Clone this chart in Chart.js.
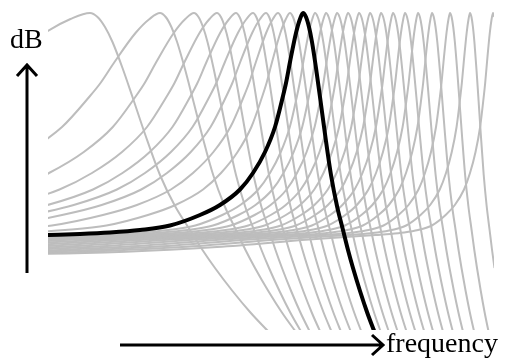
<!DOCTYPE html>
<html>
<head>
<meta charset="utf-8">
<script src="https://cdn.jsdelivr.net/npm/chart.js@4"></script>
<style>
  html, body { margin: 0; padding: 0; background: #fff; }
  canvas { display: block; }
</style>
</head>
<body>
<canvas id="filtri" width="506" height="361"></canvas>
<script>
// shape of one response: distance from the peak, level in dB
const tplOffset = [-2000, -1000, -600, -400, -255, -223, -193, -163, -133, -103, -83, -63, -50, -38, -28, -20, -17, -13, -7, -3, 0,
                   3, 6, 9, 13, 17, 22, 28, 34, 40, 45, 50, 57, 64, 70, 87];
const tplDb     = [-0.1, 0.0, 0.7, 1.45, 1.9, 2.0, 2.15, 2.4, 2.85, 3.9, 4.9, 6.45, 8.1, 10.2, 12.7, 15.8, 17.1, 19.2, 22.1, 23.5, 24.1,
                   23.7, 22.7, 21.2, 18.6, 15.7, 12.0, 7.9, 4.8, 2.4, 0.4, -1.4, -3.7, -5.8, -7.4, -11.6];

// highlighted curve
const blackPeak = 255;

// gray curves: peak frequency, width of the rising side, width of the falling side
const grayPeak  = [42, 112, 146, 169, 188, 205, 218, 230, 242,
                   267, 278, 289, 300, 311, 322, 333, 345, 357, 370, 384, 402, 422, 445];
const grayLeft  = [6.5, 3.5, 2.9, 2.5, 2.27, 2.16, 1.98, 1.7, 1.38,
                   0.9, 0.85, 0.8, 0.75, 0.71, 0.67, 0.64, 0.61, 0.58, 0.55, 0.52, 0.5, 0.48, 0.46];
const grayRight = [2.5, 1.9, 1.5, 1.3, 1.18, 1.1, 1.05, 1.02, 1.0,
                   0.92, 0.88, 0.85, 0.82, 0.79, 0.76, 0.73, 0.7, 0.67, 0.63, 0.59, 0.54, 0.49, 0.44];

function curva(peak, sl, sr) {
    return tplOffset.map((off, i) => ({
        x: peak + off * (off < 0 ? sl : sr),
        y: tplDb[i]
    }));
}

const datasets = [{
    data: curva(blackPeak, 1, 1),
    borderColor: '#000000',
    borderWidth: 4
}];

grayPeak.forEach((p, i) => {
    datasets.push({
        data: curva(p, grayLeft[i], grayRight[i]),
        borderColor: '#bdbdbd',
        borderWidth: 2
    });
});

// arrows and axis names
const assiPlugin = {
    id: 'assi',
    afterDraw(chart) {
        const { ctx } = chart;
        ctx.save();
        ctx.strokeStyle = '#000';
        ctx.lineWidth = 3;
        ctx.lineJoin = 'miter';
        ctx.lineCap = 'butt';

        ctx.beginPath();
        ctx.moveTo(27, 273);
        ctx.lineTo(27, 66);
        ctx.moveTo(17, 76);
        ctx.lineTo(27, 65);
        ctx.lineTo(37, 76);
        ctx.stroke();

        ctx.beginPath();
        ctx.moveTo(120, 345);
        ctx.lineTo(382, 345);
        ctx.moveTo(372, 335);
        ctx.lineTo(383, 345);
        ctx.lineTo(372, 355);
        ctx.stroke();

        ctx.fillStyle = '#000';
        ctx.font = '28px "Liberation Serif", "DejaVu Serif", serif';
        ctx.textBaseline = 'alphabetic';
        ctx.fillText('dB', 10, 48);
        ctx.fillText('frequency', 386, 352);
        ctx.restore();
    }
};

new Chart(document.getElementById('filtri'), {
    type: 'line',
    data: { datasets: datasets },
    options: {
        responsive: false,
        animation: false,
        devicePixelRatio: 1,
        parsing: false,
        layout: { padding: { left: 48, right: 12, top: 10, bottom: 31 } },
        elements: {
            point: { radius: 0 },
            line: { cubicInterpolationMode: 'monotone', fill: false }
        },
        plugins: {
            legend: { display: false },
            tooltip: { enabled: false }
        },
        scales: {
            x: { type: 'linear', min: 0, max: 446, display: false },
            y: { type: 'linear', min: -7.6, max: 24.4, display: false }
        }
    },
    plugins: [assiPlugin]
});
</script>
</body>
</html>
